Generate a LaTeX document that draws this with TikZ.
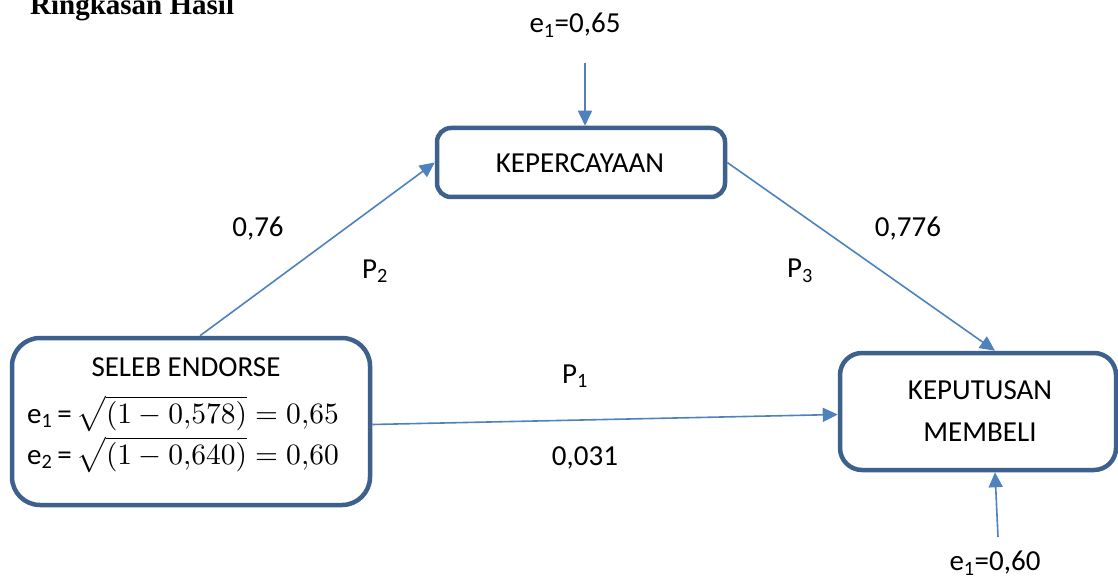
\documentclass[tikz,border=0pt]{standalone}
\usepackage{fontspec}
\setmainfont{Carlito}
\newfontfamily\titlefont{Liberation Serif}
\usetikzlibrary{arrows.meta,calc}
\definecolor{boxline}{RGB}{62,96,140}
\definecolor{arrowc}{RGB}{79,129,189}
\tikzset{
  box/.style={draw=boxline, line width=4.5pt, fill=white, inner sep=0pt},
  conn/.style={draw=arrowc, line width=1.6pt, -{Triangle[length=15pt,width=14pt]}},
  lbl/.style={inner sep=0pt, font=\fontsize{29}{35}\selectfont}
}
\newcommand{\bigmath}[1]{\scalebox{2.95}{\normalsize$#1$}}
\begin{document}
\begin{tikzpicture}[x=1pt,y=-1pt]
\useasboundingbox (0,0) rectangle (1118,577);
\begin{scope}
\clip (0,0) rectangle (1118,577);
\node[anchor=base west, inner sep=0pt, font=\titlefont\bfseries\fontsize{29}{35}\selectfont] (title) at (30,15) {Ringkasan Hasil};
\end{scope}
% boxes
\node[box, rounded corners=14pt, minimum width=288pt, minimum height=69pt] (kpc) at (581,162.5) {};
\node[box, rounded corners=28pt, minimum width=358pt, minimum height=167pt] (sel) at (191,421.5) {};
\node[box, rounded corners=22pt, minimum width=276pt, minimum height=117pt] (kpt) at (978,411.5) {};
% box texts
\node[lbl] (tsel) at (186,367) {SELEB ENDORSE};
\node[lbl] (tkpc) at (580,163) {KEPERCAYAAN};
\node[lbl, anchor=base west] (eq1) at (27,423) {e\textsubscript{1}\,=\,\bigmath{\sqrt{(1-0{,}578)}=0{,}65}};
\node[lbl, anchor=base west] (eq2) at (27,464) {e\textsubscript{2}\,=\,\bigmath{\sqrt{(1-0{,}640)}=0{,}60}};
\node[lbl] (tkpt1) at (980,390) {KEPUTUSAN};
\node[lbl] (tkpt2) at (980,432) {MEMBELI};
% error labels
\node[lbl] (e1) at (575,25) {e\textsubscript{1}=0,65};
\node[lbl] (e2) at (995,563) {e\textsubscript{1}=0,60};
\coordinate (e1s) at (585,63);
\coordinate (e2s) at (998,537);
% path labels
\node[lbl] (v2) at (258,229) {0,76};
\node[lbl] (p2) at (375,271) {P\textsubscript{2}};
\node[lbl] (v3) at (908,229) {0,776};
\node[lbl] (p3) at (800,271) {P\textsubscript{3}};
\node[lbl] (p1) at (575,376) {P\textsubscript{1}};
\node[lbl] (v1) at (585,458) {0,031};
% connectors
\draw[conn] (e1s) -- ([xshift=4pt]kpc.north);
\draw[conn] ([xshift=9pt]sel.north) -- (kpc.west);
\draw[conn] (kpc.east) -- ([xshift=17pt]kpt.north);
\draw[conn] ([yshift=-3pt]sel.east) -- ([yshift=-3pt]kpt.west);
\draw[conn] (e2s) -- ([xshift=17pt]kpt.south);
\end{tikzpicture}
\end{document}
